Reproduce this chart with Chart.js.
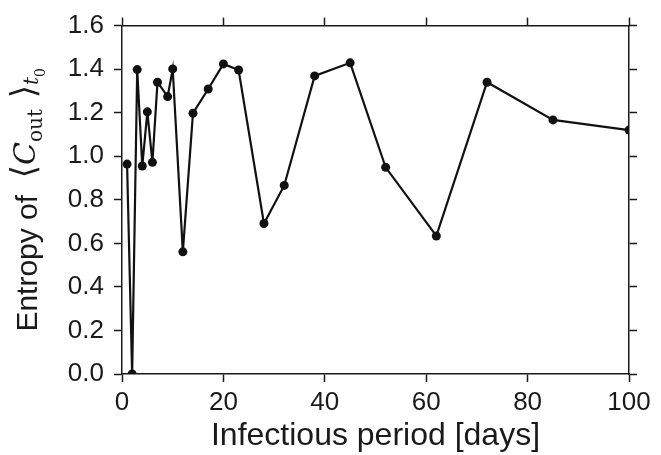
<!DOCTYPE html>
<html>
<head>
<meta charset="utf-8">
<script src="https://cdn.jsdelivr.net/npm/chart.js@4"></script>
<style>
  body { margin: 0; background: #fff; }
  #wrap { width: 661px; height: 455px; }
</style>
</head>
<body>
<div id="wrap"><canvas id="chart" width="661" height="455"></canvas></div>
<script>
// infectious period (days) and entropy values
const periods = [1, 2, 3, 4, 5, 6, 7, 9, 10, 12, 14, 17, 20, 23, 28, 32, 38, 45, 52, 62, 72, 85, 100];
const entropy = [0.964, 0.0, 1.398, 0.955, 1.204, 0.972, 1.340, 1.274, 1.401, 0.561, 1.198, 1.309,
                 1.424, 1.396, 0.691, 0.866, 1.369, 1.429, 0.949, 0.634, 1.340, 1.167, 1.120];
const xTicks = [0, 20, 40, 60, 80, 100];
const yTicks = [0, 0.2, 0.4, 0.6, 0.8, 1.0, 1.2, 1.4, 1.6];

const ink = "#1a1a1a";
const sans = "'Liberation Sans', Arial, Helvetica, sans-serif";
const serif = "'DejaVu Serif', 'Liberation Serif', serif";

// y axis title: "Entropy of <C_out>_t0" with mixed fonts
const yTitlePlugin = {
  id: "yTitle",
  afterDraw(chart) {
    const ctx = chart.ctx;
    const parts = [
      { t: "Entropy of  ", f: "30px " + sans, dy: 0 },
      { t: "\u27E8", f: "34px " + serif, dy: -2 },
      { t: "C", f: "italic 30px " + serif, dy: -2 },
      { t: "out", f: "20px " + serif, dy: 5 },
      { t: " \u27E9", f: "34px " + serif, dy: -2 },
      { t: "t", f: "italic 20px " + serif, dy: 1 },
      { t: "0", f: "14px " + serif, dy: 8 }
    ];
    let total = 0;
    parts.forEach((p) => {
      ctx.font = p.f;
      p.w = ctx.measureText(p.t).width;
      total += p.w;
    });
    const area = chart.chartArea;
    const cy = (area.top + area.bottom) / 2;
    ctx.save();
    ctx.translate(37, cy);
    ctx.rotate(-Math.PI / 2);
    ctx.fillStyle = ink;
    ctx.textBaseline = "alphabetic";
    ctx.textAlign = "left";
    let x = -total / 2;
    parts.forEach((p) => {
      ctx.font = p.f;
      ctx.fillText(p.t, x, p.dy);
      x += p.w;
    });
    ctx.restore();
  }
};

const gridOpts = {
  drawOnChartArea: false,
  drawTicks: true,
  tickLength: 8,
  tickWidth: 1.5,
  tickColor: ink
};
const borderOpts = { display: true, color: ink, width: 1.5 };

new Chart(document.getElementById("chart"), {
  type: "line",
  data: {
    datasets: [
      {
        data: periods.map((p, i) => ({ x: p, y: entropy[i] })),
        borderColor: "#111",
        backgroundColor: "#111",
        borderWidth: 2.2,
        pointRadius: 4.5,
        pointBorderWidth: 0,
        tension: 0,
        clip: 0
      }
    ]
  },
  options: {
    responsive: false,
    animation: false,
    layout: { padding: 0 },
    plugins: { legend: { display: false }, tooltip: { enabled: false } },
    scales: {
      x: {
        type: "linear",
        position: "bottom",
        min: 0,
        max: 100,
        afterBuildTicks: (s) => { s.ticks = xTicks.map((v) => ({ value: v })); },
        ticks: { color: ink, font: { size: 26, family: sans }, padding: 5, maxRotation: 0 },
        grid: gridOpts,
        border: borderOpts,
        title: {
          display: true,
          text: "Infectious period [days]",
          color: ink,
          font: { size: 32, family: sans },
          padding: { top: 0, bottom: 0 }
        },
        afterFit: (s) => { s.height = 81; }
      },
      xTop: {
        type: "linear",
        position: "top",
        min: 0,
        max: 100,
        afterBuildTicks: (s) => { s.ticks = xTicks.map((v) => ({ value: v })); },
        ticks: { display: false },
        grid: gridOpts,
        border: borderOpts,
        afterFit: (s) => { s.height = 25; }
      },
      y: {
        type: "linear",
        position: "left",
        min: 0,
        max: 1.6,
        afterBuildTicks: (s) => { s.ticks = yTicks.map((v) => ({ value: v })); },
        ticks: {
          color: ink,
          font: { size: 26, family: sans },
          padding: 10,
          callback: (v) => Number(v).toFixed(1)
        },
        grid: gridOpts,
        border: borderOpts,
        afterFit: (s) => { s.width = 122; }
      },
      yRight: {
        type: "linear",
        position: "right",
        min: 0,
        max: 1.6,
        afterBuildTicks: (s) => { s.ticks = yTicks.map((v) => ({ value: v })); },
        ticks: { display: false },
        grid: gridOpts,
        border: borderOpts,
        afterFit: (s) => { s.width = 32; }
      }
    }
  },
  plugins: [yTitlePlugin]
});
</script>
</body>
</html>
